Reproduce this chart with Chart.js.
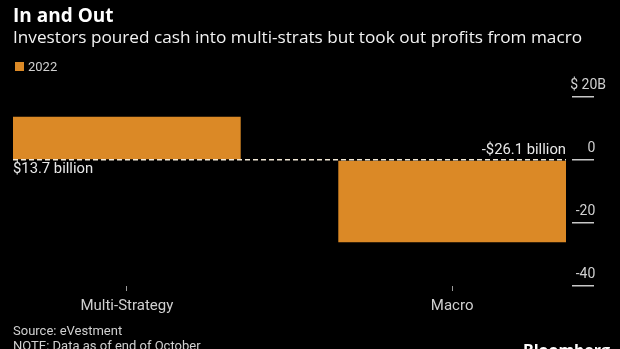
<!DOCTYPE html>
<html>
<head>
<meta charset="utf-8">
<script src="https://cdn.jsdelivr.net/npm/chart.js@4.4.0/dist/chart.umd.min.js"></script>
<style>
  html, body { margin: 0; padding: 0; background: #000; }
  body { width: 620px; height: 349px; position: relative; overflow: hidden; font-family: Roboto, sans-serif; }
  .txt { position: absolute; white-space: nowrap; }
  #title { left: 13px; top: 2px; font: bold 19px "Open Sans", sans-serif; color: #fff; }
  #subtitle { left: 13px; top: 25px; font: 17.2px "Open Sans", sans-serif; color: #f2f2f2; }
  #legend { left: 15px; top: 59px; font: 13px Roboto, sans-serif; color: #d0d0d0; display: flex; align-items: center; }
  #legend .box { width: 9px; height: 9px; margin-right: 4px; }
  #source { left: 13px; top: 323px; font: 13px Roboto, sans-serif; color: #d0d0d0; line-height: 15px; }
  #note { left: 13px; top: 338px; font: 13px Roboto, sans-serif; color: #d0d0d0; line-height: 15px; }
  #brand { right: 10px; top: 339px; font: bold 16px "Open Sans", sans-serif; color: #fff; }
  #wrap { position: absolute; left: 0; top: 0; width: 620px; height: 349px; }
</style>
</head>
<body>
<div id="wrap"><canvas id="flows" width="620" height="349"></canvas></div>
<div class="txt" id="title">In and Out</div>
<div class="txt" id="subtitle">Investors poured cash into multi-strats but took out profits from macro</div>
<div class="txt" id="legend"></div>
<div class="txt" id="source">Source: eVestment</div>
<div class="txt" id="note">NOTE: Data as of end of October</div>
<div class="txt" id="brand">Bloomberg</div>
<script>
// Net flows by strategy, $ billions
const categories = ['Multi-Strategy', 'Macro'];
const seriesName = '2022';
const flows2022 = [13.7, -26.1];
const yTicks = [-40, -20, 0, 20];

const ORANGE = '#db8926';

// legend row
const legend = document.getElementById('legend');
legend.innerHTML = '<span class="box" style="background:' + ORANGE + '"></span>' + seriesName;

// "$13.7 billion" under the baseline for gains, "-$26.1 billion" above it for outflows
const barValueLabels = {
  id: 'barValueLabels',
  afterDatasetsDraw(chart) {
    const ctx = chart.ctx;
    const meta = chart.getDatasetMeta(0);
    ctx.save();
    ctx.font = '14.8px Roboto, sans-serif';
    ctx.fillStyle = '#e8e8e8';
    meta.data.forEach((bar, i) => {
      const v = flows2022[i];
      const text = (v < 0 ? '-$' : '$') + Math.abs(v).toFixed(1) + ' billion';
      const p = bar.getProps(['x', 'base', 'width'], true);
      if (v >= 0) {
        ctx.textAlign = 'left';
        ctx.textBaseline = 'top';
        ctx.fillText(text, p.x - p.width / 2, p.base + 3);
      } else {
        ctx.textAlign = 'right';
        ctx.textBaseline = 'bottom';
        ctx.fillText(text, p.x + p.width / 2, p.base - 3);
      }
    });
    ctx.restore();
  }
};

new Chart(document.getElementById('flows'), {
  type: 'bar',
  data: {
    datasets: [{
      label: seriesName,
      data: flows2022.map((v, i) => ({ x: i, y: v })),
      backgroundColor: ORANGE,
      borderWidth: 0,
      categoryPercentage: 0.7,
      barPercentage: 1
    }]
  },
  options: {
    responsive: false,
    animation: false,
    devicePixelRatio: 1,
    layout: { padding: { left: 13, top: 97, right: 14, bottom: 0 } },
    plugins: {
      legend: { display: false },
      tooltip: { enabled: false }
    },
    scales: {
      x: {
        type: 'linear',
        min: -0.35,
        max: 1.35,
        offset: false,
        afterBuildTicks: axis => {
          axis.ticks = categories.map((c, i) => ({ value: i }));
        },
        afterFit: axis => { axis.height = 63; },
        ticks: {
          color: '#d0d0d0',
          font: { family: 'Roboto', size: 15 },
          padding: 6,
          callback: v => categories[v]
        },
        grid: { offset: false, drawOnChartArea: false, tickLength: 5, tickColor: '#9a9a9a', tickWidth: 1 },
        border: { display: false }
      },
      y: {
        position: 'right',
        min: -40,
        max: 20,
        afterBuildTicks: axis => {
          axis.ticks = yTicks.map(v => ({ value: v }));
        },
        // labels are right-aligned to the axis' outer edge
        afterFit: axis => { axis.width = 40; },
        ticks: {
          color: '#d0d0d0',
          font: { family: 'Roboto', size: 14 },
          crossAlign: 'far',
          labelOffset: -12,
          callback: v => v === 20 ? '$ 20B' : v + '\u2007\u2009'
        },
        grid: {
          drawOnChartArea: true,
          color: c => (c.tick && c.tick.value === 0) ? '#f2e8d6' : 'rgba(0,0,0,0)',
          lineWidth: 1.5,
          tickColor: '#c8c8c8',
          tickWidth: 1.5,
          tickLength: 28,
          tickBorderDash: [0, 6, 22, 80],
          z: 1
        },
        border: { display: false, dash: [5, 3] }
      }
    }
  },
  plugins: [barValueLabels]
});
</script>
</body>
</html>
